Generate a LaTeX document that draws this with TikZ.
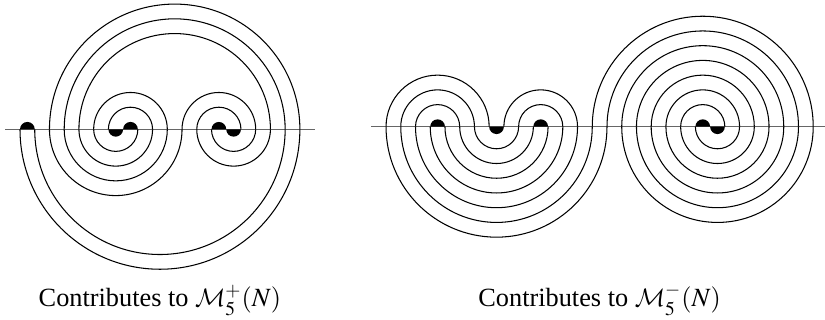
\documentclass[tikz,border=0pt]{standalone}
\usepackage{amsmath}
\usepackage{mathptmx}
\DeclareMathAlphabet{\mathcal}{OMS}{cmsy}{m}{n}
\usepackage[no-math]{fontspec}
\setmainfont{Liberation Serif}
\usepackage{tikz}

\begin{document}
\begin{tikzpicture}[x=7pt,y=7pt,
    axisline/.style={black!60, line width=0.6pt},
    strand/.style={line width=0.5pt},
    blob/.style={fill=black},
    caption/.style={anchor=base, font=\fontsize{12.5pt}{14pt}\selectfont}]
    \useasboundingbox (-1.358,-12.946) rectangle (54.65,8.778);
    % left meander
    \draw[axisline] (-1,0) -- (20,0);
    \foreach \a/\b in {2/19,3/18,4/17,5/10,6/9,11/16,12/15} {
        \draw[strand] (\a,0) arc[start angle=180, end angle=0, radius={(\b-\a)/2}];
      }
    \foreach \a/\b in {0/19,1/18,2/11,3/10,4/9,5/8,12/17,13/16} {
        \draw[strand] (\a,0) arc[start angle=180, end angle=360, radius={(\b-\a)/2}];
      }
    \foreach \a in {0,7,13} {
        \fill[blob] (\a,0) arc[start angle=180, end angle=0, radius=0.5] -- cycle;
      }
    \foreach \a in {6,14} {
        \fill[blob] (\a,0) arc[start angle=180, end angle=360, radius=0.5] -- cycle;
      }
    \node[caption] (plus) at (9.5,-12.04) {Contributes to $\mathcal{M}_5^+(N)$};
    % right meander
    \begin{scope}[shift={(24.85,0.177)}]
      \draw[axisline] (-1,0) -- (30,0);
      \foreach \a/\b in {0/7,1/6,2/5,8/13,9/12,14/29,15/28,16/27,17/26,18/25,19/24,20/23} {
          \draw[strand] (\a,0) arc[start angle=180, end angle=0, radius={(\b-\a)/2}];
        }
      \foreach \a/\b in {0/15,1/14,2/13,3/12,4/11,5/10,6/9,16/29,17/28,18/27,19/26,20/25,21/24} {
          \draw[strand] (\a,0) arc[start angle=180, end angle=360, radius={(\b-\a)/2}];
        }
      \foreach \a in {3,10,21} {
          \fill[blob] (\a,0) arc[start angle=180, end angle=0, radius=0.5] -- cycle;
        }
      \foreach \a in {7,22} {
          \fill[blob] (\a,0) arc[start angle=180, end angle=360, radius=0.5] -- cycle;
        }
    \end{scope}
    \node[caption] (minus) at (39.35,-12.04) {Contributes to $\mathcal{M}_5^-(N)$};
  \end{tikzpicture}
\end{document}
